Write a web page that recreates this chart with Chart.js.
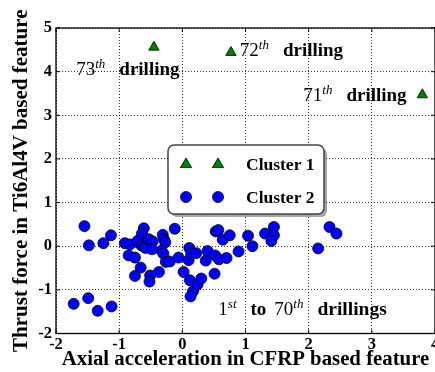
<!DOCTYPE html>
<html>
<head>
<meta charset="utf-8">
<script src="https://cdn.jsdelivr.net/npm/chart.js@4/dist/chart.umd.min.js"></script>
<style>
html, body { margin: 0; padding: 0; background: #fff; overflow: hidden; }
</style>
</head>
<body>
<canvas id="chart" width="435" height="372"></canvas>
<script>
// cluster 1: the three last drillings (71st, 72nd, 73rd)
const cluster1X = [3.80, 0.77, -0.45];
const cluster1Y = [3.47, 4.44, 4.56];

// cluster 2: drillings 1 to 70
const cluster2X = [
    -1.55, -1.48, -1.25, -1.13, -1.72, -1.49, -1.34, -1.12,
    -0.91, -0.83, -0.85, -0.75, -0.61, -0.64, -0.70, -0.71, -0.65, -0.60, -0.58,
    -0.53, -0.47, -0.48, -0.66, -0.75, -0.51, -0.52, -0.37,
    -0.31, -0.29, -0.27, -0.33, -0.30, -0.26, -0.20, -0.12, -0.06, 0.02,
    0.11, 0.10, 0.14, 0.22, 0.12, 0.17, 0.13, 0.24, 0.30, 0.37, 0.40,
    0.53, 0.57, 0.64, 0.75, 0.52, 0.58, 0.70, 0.51, 0.89,
    1.04, 1.11, 1.31, 1.45, 1.45, 1.41, 2.33, 2.44, 2.15
];
const cluster2Y = [
    0.46, 0.02, 0.07, 0.25, -1.32, -1.19, -1.48, -1.38,
    0.07, 0.04, -0.21, -0.26, 0.41, 0.29, 0.09, 0.12, 0.02, -0.02, -0.04,
    0.16, 0.11, -0.07, -0.49, -0.68, -0.67, -0.81, -0.59,
    0.26, 0.15, 0.09, -0.10, -0.17, -0.36, -0.35, 0.40, -0.26, -0.59,
    -0.04, -0.32, -0.17, -0.16, -0.78, -1.03, -1.15, -0.88, -0.74, -0.33, -0.11,
    0.34, 0.37, 0.15, 0.25, -0.21, -0.30, -0.27, -0.63, -0.12,
    0.24, 0.00, 0.29, 0.44, 0.25, 0.12, 0.44, 0.29, -0.05
];

const xLabel = 'Axial acceleration in CFRP based feature';
const yLabel = 'Thrust force in Ti6Al4V based feature';
const legendLabels = ['Cluster 1', 'Cluster 2'];

// annotations: number, superscript, words, anchor (data coords of left end of baseline)
const noteNum = ['73', '72', '71', '1'];
const noteSup = ['th', 'th', 'th', 'st'];
const noteText = ['drilling', 'drilling', 'drilling', ''];
const noteX = [-1.68, 0.91, 1.915, 0.57];
const noteY = [3.93, 4.365, 3.336, -1.583];

const SERIF = '"Liberation Serif", serif';

function toPoints(xs, ys) {
    return xs.map((x, i) => ({ x: x, y: ys[i] }));
}

function drawRich(ctx, parts, x, y) {
    ctx.textBaseline = 'alphabetic';
    ctx.textAlign = 'left';
    ctx.fillStyle = '#000';
    for (const p of parts) {
        ctx.font = p.font;
        ctx.fillText(p.text, x, y - (p.dy || 0));
        x += ctx.measureText(p.text).width + (p.gap || 0);
    }
}

const notesPlugin = {
    id: 'notes',
    afterDatasetsDraw(chart) {
        const ctx = chart.ctx;
        const xs = chart.scales.x, ys = chart.scales.y;
        const num = '19px ' + SERIF, sup = 'italic 13px ' + SERIF, word = 'bold 19px ' + SERIF;
        ctx.save();
        for (let i = 0; i < noteNum.length; i++) {
            const px = xs.getPixelForValue(noteX[i]);
            const py = ys.getPixelForValue(noteY[i]);
            let parts = [
                { text: noteNum[i], font: num },
                { text: noteSup[i], font: sup, dy: 7, gap: 14 }
            ];
            if (i === 3) {
                parts = parts.concat([
                    { text: 'to', font: word, gap: 8 },
                    { text: '70', font: num },
                    { text: 'th', font: sup, dy: 7, gap: 14 },
                    { text: 'drillings', font: 'bold 19.5px ' + SERIF }
                ]);
            } else {
                parts.push({ text: noteText[i], font: word });
            }
            drawRich(ctx, parts, px, py);
        }
        ctx.restore();
    }
};

const framePlugin = {
    id: 'frame',
    afterDraw(chart) {
        const ctx = chart.ctx;
        const a = chart.chartArea;
        ctx.save();
        ctx.strokeStyle = '#000';
        ctx.lineWidth = 1.3;
        ctx.strokeRect(a.left, a.top, a.right - a.left, a.bottom - a.top);
        // inward tick marks like the original
        ctx.lineWidth = 1;
        chart.scales.x.ticks.forEach(t => {
            const px = chart.scales.x.getPixelForValue(t.value);
            ctx.beginPath();
            ctx.moveTo(px, a.bottom); ctx.lineTo(px, a.bottom - 4);
            ctx.moveTo(px, a.top); ctx.lineTo(px, a.top + 4);
            ctx.stroke();
        });
        chart.scales.y.ticks.forEach(t => {
            const py = chart.scales.y.getPixelForValue(t.value);
            ctx.beginPath();
            ctx.moveTo(a.left, py); ctx.lineTo(a.left + 4, py);
            ctx.moveTo(a.right, py); ctx.lineTo(a.right - 4, py);
            ctx.stroke();
        });
        ctx.restore();
    }
};

const legendBoxPlugin = {
    id: 'legendBox',
    afterDraw(chart, args, opts) {
        const ctx = chart.ctx;
        const { left, top, width, height, radius } = opts;
        ctx.save();
        // shadow
        ctx.fillStyle = 'rgba(0,0,0,0.35)';
        ctx.beginPath();
        ctx.roundRect(left + 3, top + 3, width, height, radius);
        ctx.fill();
        ctx.fillStyle = '#fff';
        ctx.strokeStyle = '#444';
        ctx.lineWidth = 1.5;
        ctx.beginPath();
        ctx.roundRect(left, top, width, height, radius);
        ctx.fill();
        ctx.stroke();

        chart.data.datasets.forEach((ds, i) => {
            const rowY = top + opts.firstRow + i * opts.rowGap;
            opts.markerX.forEach(mx => {
                ctx.fillStyle = ds.backgroundColor;
                ctx.strokeStyle = ds.borderColor;
                ctx.lineWidth = ds.borderWidth;
                if (ds.pointStyle === 'triangle') {
                    const r = ds.pointRadius;
                    ctx.beginPath();
                    ctx.moveTo(left + mx, rowY - r);
                    ctx.lineTo(left + mx + r * 0.95, rowY + r * 0.6);
                    ctx.lineTo(left + mx - r * 0.95, rowY + r * 0.6);
                    ctx.closePath();
                } else {
                    ctx.beginPath();
                    ctx.arc(left + mx, rowY, ds.pointRadius, 0, 2 * Math.PI);
                }
                ctx.fill();
                ctx.stroke();
            });
            ctx.fillStyle = '#000';
            ctx.font = 'bold 17.5px ' + SERIF;
            ctx.textBaseline = 'middle';
            ctx.textAlign = 'left';
            ctx.fillText(ds.label, left + opts.textX, rowY + 1);
        });
        ctx.restore();
    }
};

const tickFont = { family: SERIF, size: 16.5, weight: 'bold' };

new Chart(document.getElementById('chart'), {
    type: 'scatter',
    data: {
        datasets: [
            {
                label: legendLabels[0],
                data: toPoints(cluster1X, cluster1Y),
                pointStyle: 'triangle',
                pointRadius: 6,
                backgroundColor: '#008000',
                borderColor: '#000',
                borderWidth: 0.8
            },
            {
                label: legendLabels[1],
                data: toPoints(cluster2X, cluster2Y),
                pointStyle: 'circle',
                pointRadius: 5.5,
                backgroundColor: '#0000ff',
                borderColor: '#000',
                borderWidth: 0.8
            }
        ]
    },
    options: {
        responsive: false,
        animation: false,
        layout: { autoPadding: false, padding: { top: 28, left: 0, right: 0, bottom: 0 } },
        plugins: {
            legend: { display: false },
            tooltip: { enabled: false },
            legendBox: { left: 168, top: 145, width: 156, height: 69, radius: 6,
                         markerX: [18, 50], firstRow: 19, rowGap: 33, textX: 78 }
        },
        scales: {
            x: {
                type: 'linear',
                min: -2, max: 4,
                ticks: { stepSize: 1, color: '#000', font: tickFont, padding: 1, maxRotation: 0 },
                grid: { color: '#000', lineWidth: 0.8, drawTicks: false },
                border: { display: false, dash: [1, 2] },
                title: { display: true, text: xLabel, color: '#000',
                         font: { family: SERIF, size: 20.8, weight: 'bold' }, padding: 0 },
                afterFit(scale) {
                    scale.paddingLeft = 0;
                    scale.paddingRight = 0;
                    scale.height = 38.5;
                }
            },
            y: {
                type: 'linear',
                min: -2, max: 5,
                ticks: { stepSize: 1, color: '#000', font: tickFont, padding: 4 },
                grid: { color: '#000', lineWidth: 0.8, drawTicks: false },
                border: { display: false, dash: [1, 2] },
                title: { display: true, text: yLabel, color: '#000',
                         font: { family: SERIF, size: 21, weight: 'bold' }, padding: { top: 9, bottom: 0 } },
                afterFit(scale) {
                    scale.paddingTop = 0;
                    scale.paddingBottom = 0;
                    scale.width = 56;
                }
            }
        }
    },
    plugins: [framePlugin, notesPlugin, legendBoxPlugin]
});
</script>
</body>
</html>
